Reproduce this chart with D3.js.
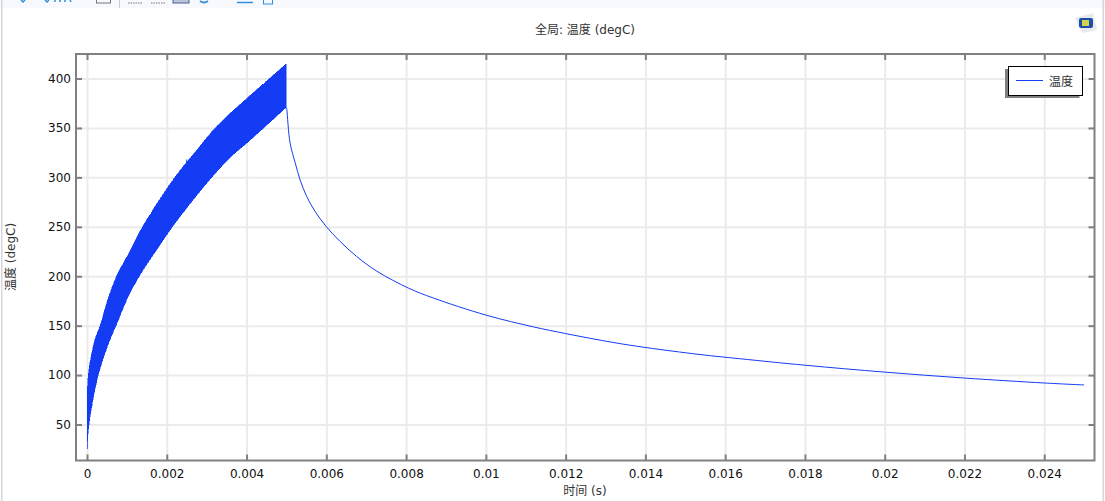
<!DOCTYPE html>
<html>
<head>
<meta charset="utf-8">
<script src="https://cdn.jsdelivr.net/npm/d3@7"></script>
<style>
	body { margin: 0; background: #fff; overflow: hidden; }
	text { font-family: 'DejaVu Sans', 'Noto Sans CJK SC', sans-serif; fill: #333; }
	.tick text { font-size: 12px; fill: #111; }
	.grid line { stroke: #ebebeb; stroke-width: 2; }
	.grid path { display: none; }
	.rand path { display: none; }
	.rand line { stroke: #808080; stroke-width: 2; }
</style>
</head>
<body>
<script>
// waarden
const xTicks = [0, 0.002, 0.004, 0.006, 0.008, 0.01, 0.012, 0.014, 0.016, 0.018, 0.02, 0.022, 0.024]
const yTicks = [50, 100, 150, 200, 250, 300, 350, 400]

// bovenkant van de band (tijdens opwarmen)
const upperTime = [0, 0.00001, 0.00003, 0.0002, 0.00033, 0.00052, 0.00074, 0.0011, 0.0014, 0.0022, 0.00278, 0.00326, 0.00401, 0.005]
const upperTemp = [25, 50, 99.6, 136, 150, 176.4, 200, 227, 250.6, 300, 329, 352, 380, 415]

// onderkant van de band
const lowerTime = [0, 0.00005, 0.00028, 0.00058, 0.00073, 0.001, 0.00131, 0.00176, 0.00213, 0.00251, 0.00308, 0.00364, 0.00401, 0.005]
const lowerTemp = [25, 50, 99.6, 136, 150, 176.4, 200, 227.5, 249.3, 269.5, 297.8, 322, 334.7, 371]

// afkoelen na de puls
const tailTime = [0.005, 0.00501, 0.00509, 0.00522, 0.00534, 0.00551, 0.00572, 0.00599, 0.00634, 0.00676, 0.00727, 0.00806, 0.00868, 0.01001, 0.01119, 0.012, 0.01319, 0.01399, 0.01537, 0.01638, 0.018, 0.02, 0.022, 0.024, 0.025]
const tailTemp = [371, 368.6, 335, 314.7, 297.8, 280.5, 265.5, 250.6, 235.4, 220, 205, 188, 178, 160.6, 148.8, 142, 133, 128, 120.8, 116.5, 110, 103, 97, 92, 90]

const blue = '#143cf5'
const margin = { top: 54, bottom: 40.5, left: 76, right: 10.5 }
const width = 1105 - margin.left - margin.right
const height = 501 - margin.top - margin.bottom

const svg = d3.select('body').append('svg').attr('width', 1105).attr('height', 501).style('display', 'block')

// venster van de applicatie: werkbalk en randen
svg.append('rect').attr('width', 1105).attr('height', 8).attr('fill', '#f8f9fe')
svg.append('rect').attr('x', 1).attr('width', 1.5).attr('height', 501).attr('fill', '#d4d6de')
svg.append('rect').attr('x', 1102.5).attr('width', 1.5).attr('height', 501).attr('fill', '#d4d6de')
const toolbar = svg.append('g').attr('fill', 'none').attr('stroke-width', 1)
toolbar.append('rect').attr('x', 96.5).attr('y', -4).attr('width', 14).attr('height', 7).attr('stroke', '#777')
toolbar.append('path').attr('d', 'M119.5 0V8').attr('stroke', '#ccc')
toolbar.append('path').attr('d', 'M128 3H143M151 3H166').attr('stroke', '#777').attr('stroke-dasharray', '1.5 1')
toolbar.append('rect').attr('x', 173).attr('y', -3).attr('width', 16).attr('height', 6).attr('fill', '#b9c4dc').attr('stroke', '#48608f')
toolbar.append('path').attr('d', 'M200 1Q204 4 208 1').attr('stroke', '#3a8fd0').attr('stroke-width', 2)
toolbar.append('path').attr('d', 'M237 2.5H253').attr('stroke', '#2f8fd8').attr('stroke-width', 1.5)
toolbar.append('rect').attr('x', 263.5).attr('y', -3).attr('width', 9).attr('height', 7).attr('stroke', '#2f8fd8')
toolbar.append('path').attr('d', 'M21 0l2 2 2-2M45 0l2 2 2-2M55 0v2M60 0v2M65 0v2M70 0l1 2').attr('stroke', '#2f8fd8').attr('stroke-width', 1.5)

// logo rechtsboven
svg.append('path').attr('d', 'M1075 18L1093 13L1097 30L1082 33Z').attr('fill', '#e9e9ee')
svg.append('rect').attr('x', 1079).attr('y', 18).attr('width', 14).attr('height', 10).attr('rx', 2).attr('fill', '#1c4fa8')
svg.append('rect').attr('x', 1082).attr('y', 20).attr('width', 7).attr('height', 6).attr('fill', '#d8d24a')

const g = svg.append('g').attr('transform', `translate(${margin.left},${margin.top})`)

const xscale = d3.scaleLinear().domain([-0.000276, 0.02526]).range([0, width])
const yscale = d3.scaleLinear().domain([13.6, 424.8]).range([height, 0])

// rasterlijnen
g.append('g').attr('class', 'grid').attr('transform', `translate(0,${height})`)
	.call(d3.axisBottom(xscale).tickValues(xTicks).tickSize(-height).tickFormat(''))
g.append('g').attr('class', 'grid')
	.call(d3.axisLeft(yscale).tickValues(yTicks).tickSize(-width).tickFormat(''))

const lineGen = d3.line().x(d => xscale(d[0])).y(d => yscale(d[1])).curve(d3.curveCatmullRom)

// de temperatuurband: loopt heen langs de bovenkant en terug langs de onderkant
const upperPoints = upperTime.map((t, i) => [t, upperTemp[i]])
const lowerPoints = lowerTime.map((t, i) => [t, lowerTemp[i]]).reverse()
g.append('path')
	.attr('d', lineGen(upperPoints) + lineGen(lowerPoints).replace('M', 'L') + 'Z')
	.attr('fill', blue).attr('stroke', blue).attr('stroke-width', 0.5)
	.attr('shape-rendering', 'crispEdges')

// klein uitschietertje bij 0.0025
g.append('path').attr('d', d3.line().x(d => xscale(d[0])).y(d => yscale(d[1]))([[0.0025, 310], [0.0025, 318]]))
	.attr('stroke', blue).attr('stroke-width', 1)

g.append('path')
	.attr('d', lineGen(tailTime.map((t, i) => [t, tailTemp[i]])))
	.attr('fill', 'none').attr('stroke', blue).attr('stroke-width', 1)

// assen, met de streepjes naar binnen
g.append('g').attr('class', 'rand').attr('transform', `translate(0,${height})`)
	.call(d3.axisBottom(xscale).tickValues(xTicks).tickSize(-6).tickPadding(9).tickFormat(d => d))
g.append('g').attr('class', 'rand').call(d3.axisLeft(yscale).tickValues(yTicks).tickSize(-6).tickPadding(5).tickFormat(d => d))
g.append('g').attr('class', 'rand').call(d3.axisTop(xscale).tickValues(xTicks).tickSize(-6).tickFormat(''))
g.append('g').attr('class', 'rand').attr('transform', `translate(${width},0)`)
	.call(d3.axisRight(yscale).tickValues(yTicks).tickSize(-6).tickFormat(''))
g.append('rect').attr('width', width).attr('height', height)
	.attr('fill', 'none').attr('stroke', '#808080').attr('stroke-width', 2)

// titels
svg.append('text').attr('x', 585).attr('y', 34).attr('text-anchor', 'middle').attr('font-size', 12).text('全局: 温度 (degC)')
svg.append('text').attr('x', 585).attr('y', 495).attr('text-anchor', 'middle').attr('font-size', 12).text('时间 (s)')
svg.append('text').attr('transform', 'translate(15,257) rotate(-90)').attr('text-anchor', 'middle').attr('font-size', 12).text('温度 (degC)')

// legenda
svg.append('rect').attr('x', 1005).attr('y', 69).attr('width', 74.5).attr('height', 29).attr('fill', '#808080')
svg.append('rect').attr('x', 1008.5).attr('y', 66.5).attr('width', 74).attr('height', 29).attr('fill', '#fff').attr('stroke', '#000')
svg.append('line').attr('x1', 1016).attr('x2', 1043).attr('y1', 80.5).attr('y2', 80.5).attr('stroke', blue)
svg.append('text').attr('x', 1049).attr('y', 86).attr('font-size', 12).text('温度')
</script>
</body>
</html>
